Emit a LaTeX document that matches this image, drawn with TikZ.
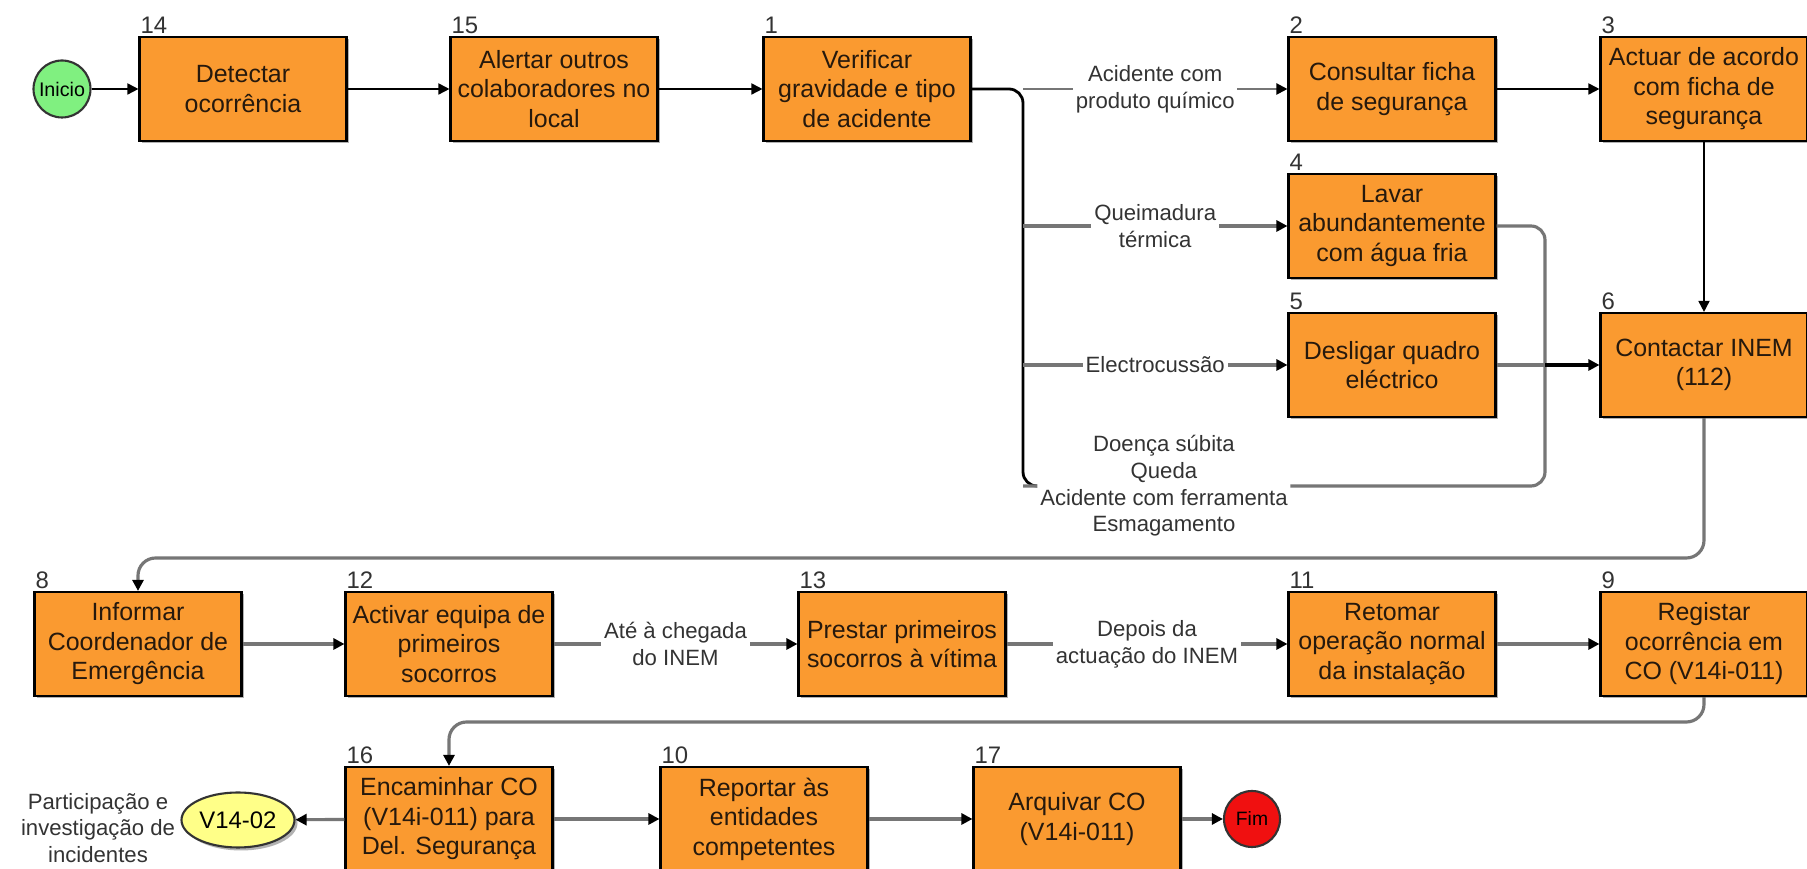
\documentclass[tikz,border=0pt]{standalone}
\usepackage{fontspec}
\setmainfont{Liberation Sans}
\usetikzlibrary{shapes}
\usetikzlibrary{arrows.meta}
\usetikzlibrary{shadows}
\definecolor{taskfill}{RGB}{250,154,48}
\definecolor{startfill}{RGB}{128,240,128}
\definecolor{endfill}{RGB}{240,16,16}
\definecolor{docfill}{RGB}{255,255,136}
\definecolor{linegray}{RGB}{118,118,118}

\begin{document}
\begin{tikzpicture}[x=0.1mm,y=-0.1mm,
  task/.style={draw=black, line width=0.6pt, fill=taskfill, minimum width=20.7mm, minimum height=10.4mm,
    inner sep=1pt, align=center, text=black!80!brown, font=\fontsize{7.1}{8.4}\selectfont,
    drop shadow={shadow xshift=0.25mm, shadow yshift=-0.25mm, fill=black!30, opacity=1}},
  tasknum/.style={anchor=south west, inner sep=0.4pt, text=black!80, font=\fontsize{6.8}{8}\selectfont},
  edgelbl/.style={fill=white, inner sep=0.8pt, align=center, text=black!80, font=\fontsize{6.3}{7.6}\selectfont},
  tip/.style={-{Triangle[length=1.1mm,width=1.1mm,color=black]}},
  flow/.style={draw=black, line width=0.5pt, tip},
  flowg/.style={draw=linegray, line width=0.9pt, tip},
  merge/.style={draw=linegray, line width=0.9pt, rounded corners=4},
  trunk/.style={draw=black, line width=0.8pt, rounded corners=4}]
  \fill[white] (0,0) rectangle (1807,869);
  \useasboundingbox (0,0) rectangle (1807,869);

  \node[circle, draw=black!80, line width=0.6pt, fill=startfill, minimum size=5.7mm, inner sep=0pt,
    font=\fontsize{5.6}{7}\selectfont] (start) at (62,89) {Inicio};
  \node[task] (t14) at (243,89) {Detectar\\ocorrência};
  \node[task] (t15) at (554,89) {Alertar outros\\colaboradores no\\local};
  \node[task] (t1) at (867,89) {Verificar\\gravidade e tipo\\de acidente};
  \node[task] (t2) at (1392,89) {Consultar ficha\\de segurança};
  \node[task] (t3) at (1704,89) {Actuar de acordo\\com ficha de\\segurança};
  \node[task] (t4) at (1392,226) {Lavar\\abundantemente\\com água fria};
  \node[task] (t5) at (1392,365) {Desligar quadro\\eléctrico};
  \node[task] (t6) at (1704,365) {Contactar INEM\\(112)};
  \node[task] (t8) at (138,644) {Informar\\Coordenador de\\Emergência};
  \node[task] (t12) at (449,644) {Activar equipa de\\primeiros\\socorros};
  \node[task] (t13) at (902,644) {Prestar primeiros\\socorros à vítima};
  \node[task] (t11) at (1392,644) {Retomar\\operação normal\\da instalação};
  \node[task] (t9) at (1704,644) {Registar\\ocorrência em\\CO (V14i-011)};
  \node[task] (t16) at (449,819) {Encaminhar CO\\(V14i-011) para\\Del. Segurança};
  \node[task] (t10) at (764,819) {Reportar às\\entidades\\competentes};
  \node[task] (t17) at (1077,819) {Arquivar CO\\(V14i-011)};
  \node[circle, draw=black!80, line width=0.6pt, fill=endfill, minimum size=5.6mm, inner sep=0pt,
    font=\fontsize{5.5}{6}\selectfont] (finish) at (1252,819) {Fim};
  \node[ellipse, draw=black!80, line width=0.6pt, fill=docfill, minimum width=11.3mm, minimum height=5.5mm,
    inner sep=0pt, font=\fontsize{6.8}{8}\selectfont,
    drop shadow={shadow xshift=0.3mm, shadow yshift=-0.3mm, fill=black!30, opacity=1}] (doc) at (238,820) {V14-02};
  \node[align=center, text=black!80, font=\fontsize{6.3}{7.6}\selectfont] (docnote) at (98,828)
    {Participação e\\investigação de\\incidentes};

  \foreach \n in {14,15,1,2,3,4,5,6,8,12,13,11,9,16,10,17}
    \node[tasknum] (n\n) at (t\n.north west) {\n};

  \coordinate (fork) at (1023,89);
  \coordinate (forkend) at (1023,486);
  \coordinate (join) at (1545,365);
  \coordinate (loop1) at (1704,558);
  \coordinate (loop2) at (1704,722);

  \draw[flow] (start) -- (t14);
  \draw[flow] (t14) -- (t15);
  \draw[flow] (t15) -- (t1);
  \draw[flow] (t2) -- (t3);
  \draw[flow] (t3) -- (t6);

  \draw[trunk] (t1) -- (fork) -- (forkend) -- ++(16,0);
  \draw[flowg, line width=0.6pt] (fork) -- node[edgelbl] (lchem) {Acidente com\\produto químico} (t2);
  \draw[flowg] (fork |- t4) -- node[edgelbl] (lburn) {Queimadura\\térmica} (t4);
  \draw[flowg] (fork |- t5) -- node[edgelbl] (lelec) {Electrocussão} (t5);
  \draw[merge] (forkend) -- node[edgelbl, pos=0.27] (lother)
    {Doença súbita\\Queda\\Acidente com ferramenta\\Esmagamento} (forkend -| join) -- (join);
  \draw[merge] (t4) -| (join);
  \draw[merge] (t5) -- (join);
  \draw[flow, line width=1pt] (join) -- (t6);

  \draw[flowg, rounded corners=5] (t6) -- (loop1) -| (t8);
  \draw[flowg] (t8) -- (t12);
  \draw[flowg] (t12) -- node[edgelbl] (lwait) {Até à chegada\\do INEM} (t13);
  \draw[flowg] (t13) -- node[edgelbl] (lafter) {Depois da\\actuação do INEM} (t11);
  \draw[flowg] (t11) -- (t9);
  \draw[flowg, rounded corners=5] (t9) -- (loop2) -| (t16);
  \draw[flowg] (t16) -- (doc);
  \draw[flowg] (t16) -- (t10);
  \draw[flowg] (t10) -- (t17);
  \draw[flowg] (t17) -- (finish);
\end{tikzpicture}
\end{document}
